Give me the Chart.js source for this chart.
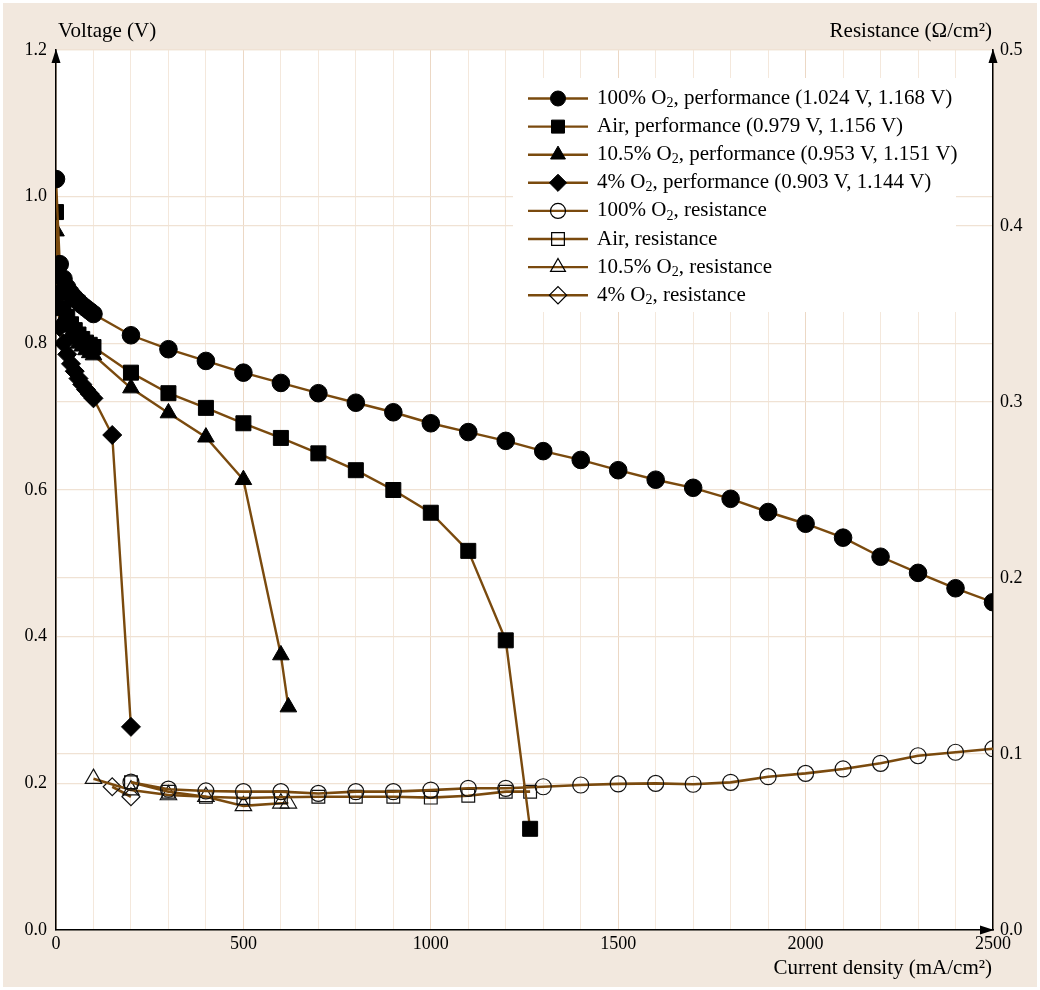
<!DOCTYPE html>
<html>
<head>
<meta charset="utf-8">
<script src="https://cdn.jsdelivr.net/npm/chart.js@4.4.1/dist/chart.umd.min.js"></script>
<style>
  html, body { margin: 0; padding: 0; background: #ffffff; }
  canvas { display: block; }
</style>
</head>
<body>
<canvas id="fc" width="1040" height="990"></canvas>
<script>
// Polarization curves (voltage) and cell resistance vs current density
// for different cathode oxygen concentrations.

// ---- performance (left axis, V) ----
const o2Current   = [0, 10, 20, 30, 40, 50, 60, 70, 80, 90, 100, 200, 300, 400, 500, 600, 700, 800, 900, 1000,
                     1100, 1200, 1300, 1400, 1500, 1600, 1700, 1800, 1900, 2000, 2100, 2200, 2300, 2400, 2500];
const o2Voltage   = [1.024, 0.908, 0.888, 0.876, 0.868, 0.862, 0.857, 0.852, 0.848, 0.844, 0.840, 0.811, 0.792, 0.776, 0.760,
                     0.746, 0.732, 0.719, 0.706, 0.691, 0.679, 0.667, 0.653, 0.641, 0.627, 0.614, 0.603, 0.588, 0.570,
                     0.554, 0.535, 0.509, 0.487, 0.466, 0.447];

const airCurrent  = [0, 10, 20, 30, 40, 50, 60, 70, 80, 90, 100, 200, 300, 400, 500, 600, 700, 800, 900, 1000, 1100, 1200, 1265];
const airVoltage  = [0.979, 0.869, 0.848, 0.836, 0.826, 0.818, 0.812, 0.806, 0.801, 0.798, 0.795, 0.760, 0.732, 0.712,
                     0.691, 0.671, 0.650, 0.627, 0.600, 0.569, 0.517, 0.395, 0.138];

const o2105Current = [0, 10, 20, 30, 40, 50, 60, 70, 80, 90, 100, 200, 300, 400, 500, 600, 620];
const o2105Voltage = [0.953, 0.852, 0.833, 0.822, 0.813, 0.806, 0.800, 0.796, 0.791, 0.787, 0.784, 0.739, 0.705, 0.672,
                      0.614, 0.375, 0.304];

const o24Current  = [0, 10, 20, 30, 40, 50, 60, 70, 80, 90, 100, 150, 200];
const o24Voltage  = [0.903, 0.822, 0.800, 0.785, 0.772, 0.762, 0.752, 0.744, 0.737, 0.731, 0.725, 0.675, 0.277];

// ---- resistance (right axis, ohm/cm2) ----
const o2ResCurrent = [200, 300, 400, 500, 600, 700, 800, 900, 1000, 1100, 1200, 1300, 1400, 1500, 1600, 1700, 1800,
                      1900, 2000, 2100, 2200, 2300, 2400, 2500];
const o2Resistance = [0.0840, 0.0800, 0.0790, 0.0786, 0.0786, 0.0776, 0.0786, 0.0786, 0.0795, 0.0805, 0.0805, 0.0814,
                      0.0824, 0.0830, 0.0833, 0.0828, 0.0839, 0.0871, 0.0890, 0.0915, 0.0947, 0.0990, 0.1010, 0.1030];

const airResCurrent = [200, 300, 400, 500, 600, 700, 800, 900, 1000, 1100, 1200, 1265];
const airResistance = [0.0840, 0.0786, 0.0757, 0.0750, 0.0754, 0.0757, 0.0757, 0.0757, 0.0752, 0.0763, 0.0786, 0.0786];

const o2105ResCurrent = [100, 200, 300, 400, 500, 600, 620];
const o2105Resistance = [0.0860, 0.0795, 0.0767, 0.0757, 0.0705, 0.0720, 0.0720];

const o24ResCurrent = [150, 200];
const o24Resistance = [0.0814, 0.0757];

// ---- axes ----
const currentTicks = [0, 500, 1000, 1500, 2000, 2500];
const voltageTicks = [0.0, 0.2, 0.4, 0.6, 0.8, 1.0, 1.2];
const resistanceTicks = [0.0, 0.1, 0.2, 0.3, 0.4, 0.5];

// ---- legend text: [before subscript, subscript, after subscript] ----
const legendLabels = [
  ['100% O', '2', ', performance (1.024 V, 1.168 V)'],
  ['Air, performance (0.979 V, 1.156 V)', '', ''],
  ['10.5% O', '2', ', performance (0.953 V, 1.151 V)'],
  ['4% O', '2', ', performance (0.903 V, 1.144 V)'],
  ['100% O', '2', ', resistance'],
  ['Air, resistance', '', ''],
  ['10.5% O', '2', ', resistance'],
  ['4% O', '2', ', resistance']
];

const LINE = '#7a4a0e';
const BEIGE = '#f2e8de';
const FONT = '"Liberation Serif", "Times New Roman", serif';

function pairs(xs, ys) { return xs.map((x, i) => ({ x: x, y: ys[i] })); }

function perf(xs, ys, style, r) {
  return {
    data: pairs(xs, ys), yAxisID: 'y', showLine: true, tension: 0,
    borderColor: LINE, borderWidth: 2.4,
    pointStyle: style, pointRadius: r, pointHoverRadius: r,
    pointBackgroundColor: '#000', pointBorderColor: '#000', pointBorderWidth: 1
  };
}
function res(xs, ys, style, r) {
  return {
    data: pairs(xs, ys), yAxisID: 'yR', showLine: true, tension: 0,
    borderColor: LINE, borderWidth: 2.6,
    pointStyle: style, pointRadius: r, pointHoverRadius: r,
    pointBackgroundColor: 'rgba(0,0,0,0)', pointBorderColor: '#111', pointBorderWidth: 1.2
  };
}

const datasets = [
  perf(o2Current, o2Voltage, 'circle', 8.8),
  perf(airCurrent, airVoltage, 'rect', 10.6),
  perf(o2105Current, o2105Voltage, 'triangle', 9.6),
  perf(o24Current, o24Voltage, 'rectRot', 9.5),
  res(o2ResCurrent, o2Resistance, 'circle', 8),
  res(airResCurrent, airResistance, 'rect', 9),
  res(o2105ResCurrent, o2105Resistance, 'triangle', 9.5),
  res(o24ResCurrent, o24Resistance, 'rectRot', 9)
];

const legendMarkers = [
  { style: 'circle', r: 7.5, fill: '#000' },
  { style: 'rect', r: 9.2, fill: '#000' },
  { style: 'triangle', r: 8.6, fill: '#000' },
  { style: 'rectRot', r: 8.6, fill: '#000' },
  { style: 'circle', r: 7.5, fill: 'rgba(0,0,0,0)' },
  { style: 'rect', r: 9, fill: 'rgba(0,0,0,0)' },
  { style: 'triangle', r: 8.6, fill: 'rgba(0,0,0,0)' },
  { style: 'rectRot', r: 8.6, fill: 'rgba(0,0,0,0)' }
];

const framePlugin = {
  id: 'frame',
  beforeDraw(chart) {
    const { ctx, chartArea: a } = chart;
    ctx.save();
    ctx.fillStyle = '#ffffff';
    ctx.fillRect(0, 0, chart.width, chart.height);
    ctx.fillStyle = BEIGE;
    ctx.fillRect(3, 3, chart.width - 6, chart.height - 6);
    ctx.fillStyle = '#ffffff';
    ctx.fillRect(a.left, a.top, a.right - a.left, a.bottom - a.top);
    ctx.restore();
  },
  afterDraw(chart) {
    const { ctx, chartArea: a } = chart;
    ctx.save();
    // arrowheads on the axes
    ctx.fillStyle = '#000';
    const arrowUp = (x, y) => {
      ctx.beginPath();
      ctx.moveTo(x, y - 1);
      ctx.lineTo(x - 4.5, y + 13);
      ctx.lineTo(x + 4.5, y + 13);
      ctx.closePath();
      ctx.fill();
    };
    arrowUp(a.left, a.top);
    arrowUp(a.right, a.top);
    ctx.beginPath();
    ctx.moveTo(a.right + 1, a.bottom);
    ctx.lineTo(a.right - 13, a.bottom - 4.5);
    ctx.lineTo(a.right - 13, a.bottom + 4.5);
    ctx.closePath();
    ctx.fill();

    // axis titles
    ctx.font = '21px ' + FONT;
    ctx.fillStyle = '#000';
    ctx.textBaseline = 'middle';
    ctx.textAlign = 'left';
    ctx.fillText('Voltage (V)', a.left + 2, 31);
    ctx.textAlign = 'right';
    ctx.fillText('Resistance (\u03A9/cm\u00B2)', a.right - 1, 31);
    ctx.fillText('Current density (mA/cm\u00B2)', a.right - 1, 968);

    // legend
    const bx = 513, by = 78, bw = 443, bh = 234;
    ctx.fillStyle = '#ffffff';
    ctx.fillRect(bx, by, bw, bh);
    const rowY0 = 98.5, rowStep = 28.1;
    legendLabels.forEach((lab, i) => {
      const y = rowY0 + i * rowStep;
      ctx.strokeStyle = LINE;
      ctx.lineWidth = 2.4;
      ctx.beginPath();
      ctx.moveTo(528, y);
      ctx.lineTo(588, y);
      ctx.stroke();
      const m = legendMarkers[i];
      ctx.fillStyle = m.fill;
      ctx.strokeStyle = '#000';
      ctx.lineWidth = i < 4 ? 1 : 1.2;
      Chart.helpers.drawPoint(ctx, { pointStyle: m.style, radius: m.r, rotation: 0, borderWidth: ctx.lineWidth }, 558, y);
      // text with subscript
      ctx.fillStyle = '#000';
      ctx.textAlign = 'left';
      ctx.textBaseline = 'middle';
      let x = 597;
      ctx.font = '21px ' + FONT;
      ctx.fillText(lab[0], x, y);
      x += ctx.measureText(lab[0]).width;
      if (lab[1]) {
        ctx.font = '14px ' + FONT;
        ctx.fillText(lab[1], x, y + 5);
        x += ctx.measureText(lab[1]).width;
        ctx.font = '21px ' + FONT;
        ctx.fillText(lab[2], x, y);
      }
    });
    ctx.restore();
  }
};

Chart.defaults.font.family = FONT;
Chart.defaults.font.size = 18;
Chart.defaults.color = '#000';

new Chart(document.getElementById('fc'), {
  type: 'scatter',
  data: { datasets: datasets },
  options: {
    responsive: false,
    devicePixelRatio: 1,
    animation: false,
    layout: { padding: { top: 50, left: 0, right: 0, bottom: 0 } },
    plugins: { legend: { display: false }, tooltip: { enabled: false }, title: { display: false } },
    scales: {
      x: {
        type: 'linear', position: 'bottom', min: 0, max: 2500,
        afterBuildTicks(scale) {
          const t = [];
          for (let v = 0; v <= 2500; v += 100) t.push({ value: v });
          scale.ticks = t;
        },
        ticks: {
          autoSkip: false, maxRotation: 0, padding: 3,
          callback: (v) => currentTicks.includes(v) ? String(v) : ''
        },
        grid: {
          drawTicks: false,
          color: (c) => (c.tick && c.tick.value % 500 === 0) ? '#ecd8c5' : '#f4e8dc',
          lineWidth: 1
        },
        border: { display: true, color: '#000', width: 1.5 },
        afterFit(scale) { scale.height = 60; }
      },
      y: {
        type: 'linear', position: 'left', min: 0, max: 1.2,
        afterBuildTicks(scale) { scale.ticks = voltageTicks.map(v => ({ value: v })); },
        ticks: { padding: 9, callback: (v) => Number(v).toFixed(1) },
        grid: { drawTicks: false, color: '#f0e2d4', lineWidth: 1.2 },
        border: { display: true, color: '#000', width: 1.5 },
        afterFit(scale) { scale.width = 56; }
      },
      yR: {
        type: 'linear', position: 'right', min: 0, max: 0.5,
        afterBuildTicks(scale) { scale.ticks = resistanceTicks.map(v => ({ value: v })); },
        ticks: { padding: 7, callback: (v) => Number(v).toFixed(1) },
        grid: { drawTicks: false, drawOnChartArea: true, color: '#f0e2d4', lineWidth: 1.2 },
        border: { display: true, color: '#000', width: 1.5 },
        afterFit(scale) { scale.width = 47; }
      }
    }
  },
  plugins: [framePlugin]
});
</script>
</body>
</html>
